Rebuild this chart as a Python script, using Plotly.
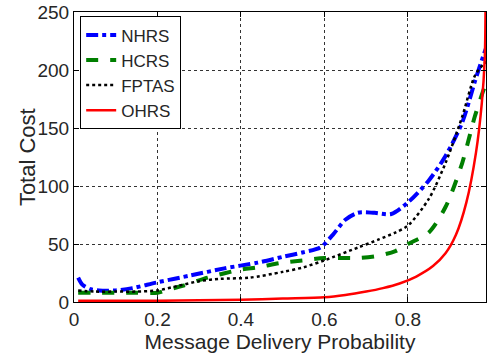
import plotly.graph_objects as go

x_nhrs = [0.01, 0.02, 0.04, 0.06, 0.1, 0.14, 0.2, 0.28, 0.36, 0.44, 0.5, 0.55, 0.59, 0.62, 0.65, 0.68, 0.72, 0.76, 0.8, 0.85, 0.89, 0.93, 0.96, 0.98, 0.99]
nhrs = [21, 15, 11, 10, 10, 12, 17, 23, 29, 34, 39, 43, 47, 58, 71, 77, 77, 76, 86, 105, 126, 155, 190, 212, 222]

x_hcrs = [0.01, 0.05, 0.1, 0.15, 0.2, 0.22, 0.26, 0.32, 0.4, 0.44, 0.5, 0.55, 0.6, 0.68, 0.73, 0.77, 0.8, 0.85, 0.89, 0.93, 0.96, 0.98, 0.99]
hcrs = [8, 8, 8, 8, 8, 10, 14, 21, 28, 30, 34, 36, 38, 38, 40, 44, 50, 60, 82, 120, 160, 182, 192]

x_fptas = [0.01, 0.05, 0.1, 0.15, 0.2, 0.25, 0.3, 0.35, 0.42, 0.5, 0.55, 0.6, 0.68, 0.73, 0.77, 0.8, 0.85, 0.89, 0.93, 0.96, 0.98, 0.99]
fptas = [10, 9, 9, 9, 10, 14, 18, 20, 21, 26, 30, 36, 47, 54, 60, 66, 89, 120, 160, 195, 205, 208]

x_ohrs = [0.01, 0.1, 0.2, 0.3, 0.4, 0.5, 0.6, 0.65, 0.7, 0.74, 0.78, 0.82, 0.86, 0.89, 0.915, 0.94, 0.963, 0.977, 0.984, 0.986]
ohrs = [1, 1, 1, 1.5, 2, 3, 4, 6, 9, 12, 16, 22, 31, 42, 58, 86, 129, 172, 210, 260]

x_ticks = [0, 0.2, 0.4, 0.6, 0.8]
y_ticks = [0, 50, 100, 150, 200, 250]

FONT = "Liberation Sans"
TXT = "#262626"

fig = go.Figure()
fig.add_trace(go.Scatter(x=x_nhrs, y=nhrs, name="NHRS", mode="lines",
                         line=dict(color="#0000ff", width=4, dash="dashdot", shape="spline", smoothing=0.8)))
fig.add_trace(go.Scatter(x=x_hcrs, y=hcrs, name="HCRS", mode="lines",
                         line=dict(color="#007f00", width=4, dash="dash", shape="spline", smoothing=0.8)))
fig.add_trace(go.Scatter(x=x_fptas, y=fptas, name="FPTAS", mode="lines",
                         line=dict(color="#000000", width=2.5, dash="dot", shape="spline", smoothing=0.8)))
fig.add_trace(go.Scatter(x=x_ohrs, y=ohrs, name="OHRS", mode="lines",
                         line=dict(color="#ff0000", width=2.5, shape="spline", smoothing=0.8)))

axis_common = dict(
    showline=True, linecolor="black", linewidth=1, mirror="ticks",
    ticks="inside", ticklen=5, tickcolor="black",
    showgrid=True, gridcolor="#333333", gridwidth=1, griddash="dot",
    zeroline=False, ticklabeloverflow="allow",
    tickfont=dict(family=FONT, size=19, color=TXT),
)

fig.update_xaxes(range=[0, 0.987], tickvals=x_ticks, ticktext=["0", "0.2", "0.4", "0.6", "0.8"],
                 title=dict(text="Message Delivery Probability", font=dict(family=FONT, size=21, color=TXT), standoff=2),
                 **axis_common)
fig.update_yaxes(range=[0, 250.4], tickvals=y_ticks, **axis_common)

fig.add_annotation(text="Total Cost", textangle=-90, xref="paper", yref="paper",
                   x=-(74 - 27) / 413, y=0.5, xanchor="center", yanchor="middle",
                   showarrow=False, font=dict(family=FONT, size=22, color=TXT))

fig.update_layout(
    width=489, height=353,
    margin=dict(l=74, r=2, t=9, b=51),
    paper_bgcolor="white", plot_bgcolor="white",
    font=dict(family=FONT, size=19, color=TXT),
    legend=dict(x=0.015, y=0.985, xanchor="left", yanchor="top",
                bgcolor="white", bordercolor="black", borderwidth=1,
                font=dict(family=FONT, size=17, color=TXT),
                tracegroupgap=0, itemwidth=30),
    showlegend=True,
)

fig.write_html("out.html")
